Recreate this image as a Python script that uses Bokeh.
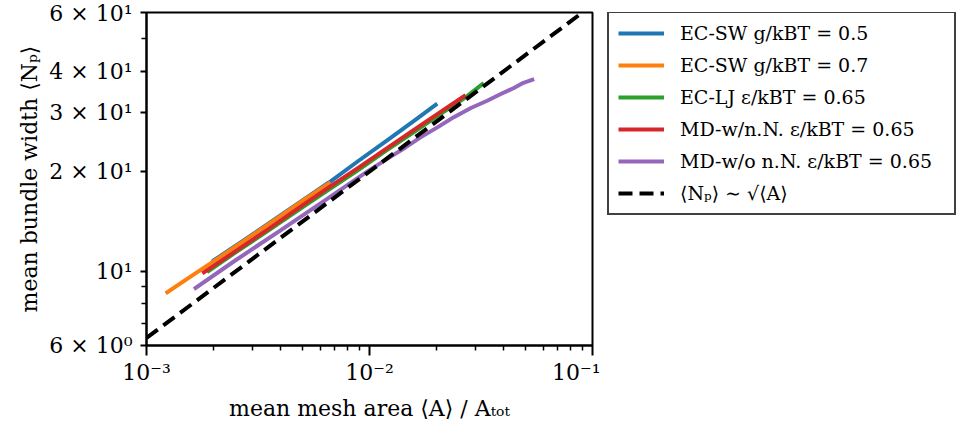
from bokeh.plotting import figure
from bokeh.layouts import row
from bokeh.models import FixedTicker, CustomJSTickFormatter, Legend, LegendItem, Range1d
from bokeh.embed import file_html
from bokeh.resources import INLINE

# ---- data ----
ecsw05_x = [0.002, 0.003, 0.0045, 0.0066, 0.009, 0.012, 0.016, 0.0198]
ecsw05_y = [10.8, 12.95, 15.6, 18.55, 21.6, 24.8, 28.5, 31.7]

ecsw07_x = [0.00124, 0.0016, 0.0022, 0.003, 0.004, 0.005, 0.00657]
ecsw07_y = [8.67, 9.73, 11.2, 12.9, 14.7, 16.3, 18.4]

eclj_x = [0.0019, 0.0025, 0.0035, 0.005, 0.0066, 0.009, 0.012, 0.016, 0.021, 0.0265, 0.032]
eclj_y = [10.05, 11.4, 13.25, 15.6, 17.65, 20.3, 23.2, 26.4, 29.9, 33.1, 36.5]

mdwnn_x = [0.00181, 0.0025, 0.0035, 0.005, 0.00657, 0.009, 0.012, 0.016, 0.021, 0.0265]
mdwnn_y = [9.95, 11.5, 13.4, 15.8, 17.9, 20.6, 23.5, 26.8, 30.3, 33.6]

mdwonn_x = [0.00166, 0.0025, 0.00399, 0.00646, 0.0098, 0.012, 0.0145, 0.01693, 0.0205,
            0.02388, 0.0285, 0.0337, 0.039, 0.0444, 0.049, 0.0537]
mdwonn_y = [8.93, 10.8, 13.3, 16.54, 20.0, 21.8, 23.6, 25.3, 27.3,
            29.1, 31.0, 32.6, 34.2, 35.6, 36.9, 37.7]

scaling_x = [0.001, 0.1]
scaling_y = [6.32, 63.2]

labels = [
    "EC-SW g/kBT = 0.5",
    "EC-SW g/kBT = 0.7",
    "EC-LJ \u03b5/kBT = 0.65",
    "MD-w/n.N. \u03b5/kBT = 0.65",
    "MD-w/o n.N. \u03b5/kBT = 0.65",
    "\u27e8N\u209a\u27e9 \u223c \u221a\u27e8A\u27e9",
]
colors = ["#1f77b4", "#ff7f0e", "#2ca02c", "#d62728", "#9467bd", "black"]

x_ticks = [0.001, 0.01, 0.1]
x_tick_labels = ["10\u207b\u00b3", "10\u207b\u00b2", "10\u207b\u00b9"]
x_minor = [0.002, 0.003, 0.004, 0.005, 0.006, 0.007, 0.008, 0.009,
           0.02, 0.03, 0.04, 0.05, 0.06, 0.07, 0.08, 0.09]
y_ticks = [6, 10, 20, 30, 40, 60]
y_tick_labels = ["6 \u00d7 10\u2070", "10\u00b9", "2 \u00d7 10\u00b9", "3 \u00d7 10\u00b9",
                 "4 \u00d7 10\u00b9", "6 \u00d7 10\u00b9"]
y_minor = [7, 8, 9, 50]

FONT = "DejaVu Serif"

# ---- main plot ----
p = figure(width=600, height=437, x_axis_type="log", y_axis_type="log",
           x_range=Range1d(1e-3, 1e-1), y_range=Range1d(6, 60),
           output_backend="svg", toolbar_location=None,
           min_border_left=146, min_border_right=8,
           min_border_top=12, min_border_bottom=92)
p.grid.visible = False
p.outline_line_color = "black"
p.outline_line_width = 2
p.outline_line_alpha = 1

series = [(ecsw05_x, ecsw05_y), (ecsw07_x, ecsw07_y), (eclj_x, eclj_y),
          (mdwnn_x, mdwnn_y), (mdwonn_x, mdwonn_y)]
for (xs, ys), c in zip(series, colors[:5]):
    p.line(xs, ys, line_color=c, line_width=4, line_cap="square", line_join="round")
p.line(scaling_x, scaling_y, line_color="black", line_width=4, line_dash="14 7")

fmt_code = """
let best = 0, bd = 1e9;
for (let i = 0; i < vals.length; i++) {
  const d = Math.abs(Math.log10(tick) - Math.log10(vals[i]));
  if (d < bd) { bd = d; best = i; }
}
return bd < 1e-6 ? labs[best] : "";
"""

xa = p.xaxis[0]
xa.ticker = FixedTicker(ticks=x_ticks, minor_ticks=x_minor)
xa.formatter = CustomJSTickFormatter(args=dict(vals=x_ticks, labs=x_tick_labels), code=fmt_code)
xa.axis_label = "mean mesh area \u27e8A\u27e9 / A\u209c\u2092\u209c"
xa.major_tick_out = 10
xa.major_tick_in = 0
xa.minor_tick_out = 5
xa.minor_tick_in = 0
xa.major_label_standoff = 4
xa.axis_label_standoff = 8

ya = p.yaxis[0]
ya.ticker = FixedTicker(ticks=y_ticks, minor_ticks=y_minor)
ya.formatter = CustomJSTickFormatter(args=dict(vals=y_ticks, labs=y_tick_labels), code=fmt_code)
ya.axis_label = "mean bundle width \u27e8N\u209a\u27e9"
ya.major_tick_out = 6
ya.major_tick_in = 0
ya.minor_tick_out = 5
ya.minor_tick_in = 0
ya.major_label_standoff = 8
ya.axis_label_standoff = 4

for ax in (xa, ya):
    ax.axis_line_width = 2
    ax.axis_line_color = "black"
    ax.major_tick_line_width = 2
    ax.minor_tick_line_width = 1.5
    ax.major_label_text_font = FONT
    ax.major_label_text_font_size = "22px"
    ax.major_label_text_color = "black"
    ax.axis_label_text_font = FONT
    ax.axis_label_text_font_size = "22px"
    ax.axis_label_text_font_style = "normal"
    ax.axis_label_text_color = "black"

# ---- legend panel (its frame is aligned with the main frame by the row) ----
q = figure(width=361, height=437, output_backend="svg", toolbar_location=None,
           x_axis_location=None, y_axis_location=None,
           x_range=Range1d(0, 1), y_range=Range1d(0, 1),
           min_border_left=0, min_border_right=0, min_border_top=12, min_border_bottom=92)
q.grid.visible = False
q.outline_line_color = None
# proxy lines placed outside the visible range, used only for legend swatches
proxy_x = [5, 6]
proxy_y = [5, 6]
leg_renderers = []
for c in colors[:5]:
    leg_renderers.append(q.line(proxy_x, proxy_y, line_color=c, line_width=4))
leg_renderers.append(q.line(proxy_x, proxy_y, line_color="black", line_width=4, line_dash="14 7"))

legend = Legend(items=[LegendItem(label=l, renderers=[rr]) for l, rr in zip(labels, leg_renderers)],
                location=(7, 130))
legend.border_line_color = "#404040"
legend.border_line_width = 2
legend.border_line_alpha = 1
legend.background_fill_color = "white"
legend.background_fill_alpha = 1
legend.label_text_font = FONT
legend.label_text_font_size = "19px"
legend.label_text_color = "black"
legend.glyph_width = 46
legend.glyph_height = 20
legend.label_height = 20
legend.label_width = 265
legend.spacing = 10
legend.padding = 9
legend.label_standoff = 16
legend.margin = 0
q.add_layout(legend)

layout = row(p, q)
open("out.html", "w").write(file_html(layout, INLINE))
